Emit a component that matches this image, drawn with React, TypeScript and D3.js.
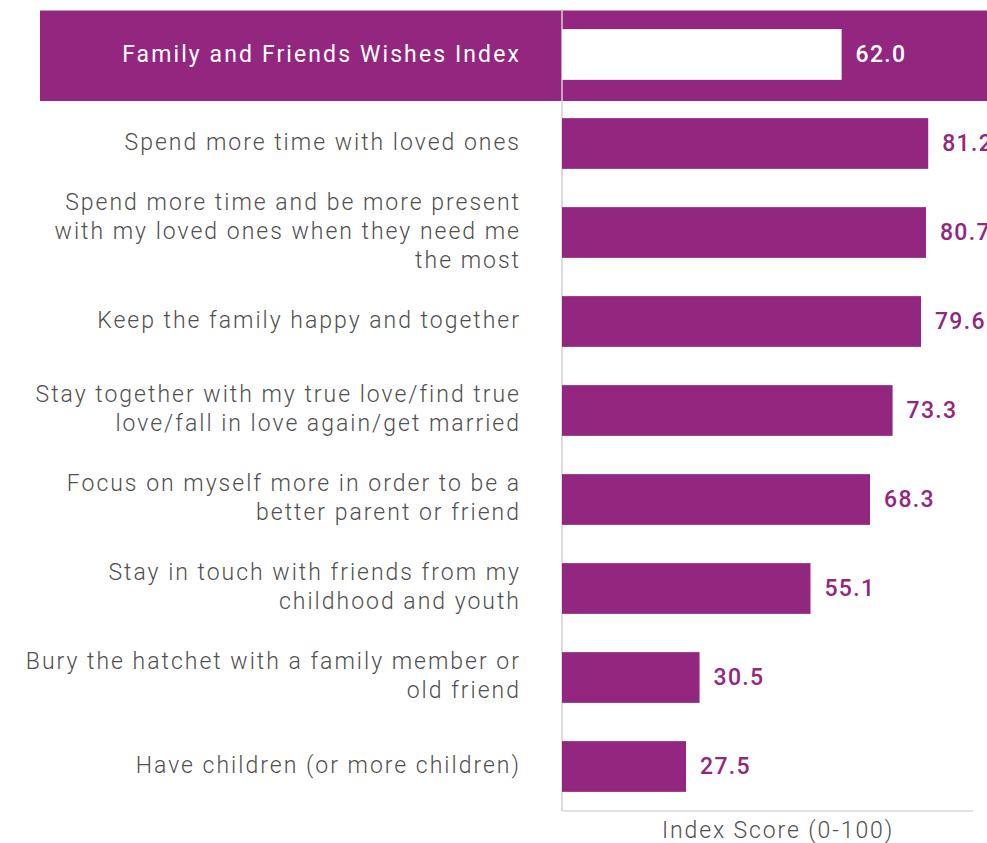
import { useEffect, useRef } from 'react';
import * as d3 from 'd3';

const headerLabel = 'Family and Friends Wishes Index';
const headerValue = 62.0;

const categories = [
  ['Spend more time with loved ones'],
  ['Spend more time and be more present', 'with my loved ones when they need me', 'the most'],
  ['Keep the family happy and together'],
  ['Stay together with my true love/find true', 'love/fall in love again/get married'],
  ['Focus on myself more in order to be a', 'better parent or friend'],
  ['Stay in touch with friends from my', 'childhood and youth'],
  ['Bury the hatchet with a family member or', 'old friend'],
  ['Have children (or more children)'],
];
const values = [81.2, 80.7, 79.6, 73.3, 68.3, 55.1, 30.5, 27.5];
const axisTitle = 'Index Score (0-100)';

const PURPLE = '#93267f';
const GREY_TEXT = '#505050';
const FONT = 'Roboto, "Noto Sans", sans-serif';
const LS = 2;

const App = () => {
  const svgRef = useRef<SVGSVGElement>(null);

  useEffect(() => {
    if (!svgRef.current) return;
    const svg = d3.select(svgRef.current);
    svg.selectAll('*').remove();

    const width = 987;
    const height = 843;
    const x0 = 562;
    const labelX = 519 + LS;

    const rows = ['header', ...values.map((_, i) => `r${i}`)];
    const y = d3.scaleBand<string>()
      .domain(rows)
      .range([10, 811])
      .paddingInner(0.43)
      .paddingOuter(0.215);

    const x = d3.scaleLinear().domain([0, 100]).range([x0, x0 + 451]);

    svg.append('rect')
      .attr('width', width)
      .attr('height', height)
      .attr('fill', '#ffffff');

    // header band
    const bandStep = y.step();
    const hy = y('header')! + y.bandwidth() / 2;
    svg.append('rect')
      .attr('x', 40)
      .attr('y', hy - bandStep / 2 + 0.5)
      .attr('width', width - 40)
      .attr('height', bandStep + 1.5)
      .attr('fill', PURPLE);

    // axis lines
    svg.append('line')
      .attr('x1', x0).attr('x2', x0)
      .attr('y1', 9).attr('y2', 811)
      .attr('stroke', '#d0d0d0')
      .attr('stroke-width', 1.5);
    svg.append('line')
      .attr('x1', x0).attr('x2', 973)
      .attr('y1', 811).attr('y2', 811)
      .attr('stroke', '#d9d9d9')
      .attr('stroke-width', 1.5);

    // header bar
    svg.append('rect')
      .attr('x', x(0))
      .attr('y', y('header')!)
      .attr('width', x(headerValue) - x(0))
      .attr('height', y.bandwidth())
      .attr('fill', '#ffffff');

    svg.append('text')
      .attr('x', x(headerValue) + 14)
      .attr('y', hy)
      .attr('dy', '0.33em')
      .attr('fill', '#ffffff')
      .attr('font-family', FONT)
      .attr('font-size', 23)
      .attr('font-weight', 500)
      .attr('letter-spacing', 1.3)
      .text(headerValue.toFixed(1));

    svg.append('text')
      .attr('x', labelX)
      .attr('y', hy)
      .attr('dy', '0.33em')
      .attr('text-anchor', 'end')
      .attr('fill', '#ffffff')
      .attr('font-family', FONT)
      .attr('font-size', 23)
      .attr('letter-spacing', 2.1)
      .text(headerLabel);

    // bars
    const data = values.map((v, i) => ({ key: `r${i}`, v, lines: categories[i] }));

    svg.selectAll('rect.bar')
      .data(data)
      .enter()
      .append('rect')
      .attr('class', 'bar')
      .attr('x', x(0))
      .attr('y', d => y(d.key)!)
      .attr('width', d => x(d.v) - x(0))
      .attr('height', y.bandwidth())
      .attr('fill', PURPLE);

    svg.selectAll('text.val')
      .data(data)
      .enter()
      .append('text')
      .attr('class', 'val')
      .attr('x', d => x(d.v) + 14)
      .attr('y', d => y(d.key)! + y.bandwidth() / 2)
      .attr('dy', '0.33em')
      .attr('fill', PURPLE)
      .attr('font-family', FONT)
      .attr('font-size', 23)
      .attr('font-weight', 500)
      .attr('letter-spacing', 1.3)
      .text(d => d.v.toFixed(1));

    const lineH = 29;
    const labels = svg.selectAll('text.cat')
      .data(data)
      .enter()
      .append('text')
      .attr('class', 'cat')
      .attr('text-anchor', 'end')
      .attr('fill', GREY_TEXT)
      .attr('font-family', FONT)
      .attr('font-size', 23)
      .attr('font-weight', 300)
      .attr('letter-spacing', LS)
      .attr('y', d => y(d.key)! + y.bandwidth() / 2 - ((d.lines.length - 1) * lineH) / 2);

    labels.selectAll('tspan')
      .data(d => d.lines.map((t, j) => ({ t, j })))
      .enter()
      .append('tspan')
      .attr('x', labelX)
      .attr('dy', d => (d.j === 0 ? '0.28em' : `${lineH}px`))
      .text(d => d.t);

    svg.append('text')
      .attr('x', 778)
      .attr('y', 830)
      .attr('dy', '0.33em')
      .attr('text-anchor', 'middle')
      .attr('fill', GREY_TEXT)
      .attr('font-family', FONT)
      .attr('font-size', 23)
      .attr('font-weight', 300)
      .attr('letter-spacing', 1.9)
      .text(axisTitle);
  }, []);

  return (
    <svg
      ref={svgRef}
      width={987}
      height={843}
      style={{ position: 'absolute', left: 0, top: 0, display: 'block' }}
    />
  );
};

export default App;
